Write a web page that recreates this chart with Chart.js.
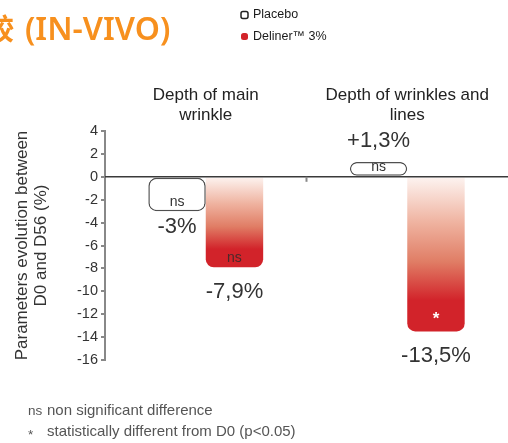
<!DOCTYPE html>
<html><head><meta charset="utf-8">
<script src="https://cdn.jsdelivr.net/npm/chart.js@4"></script>
<style>
html,body{margin:0;padding:0;background:#fff;overflow:hidden}
#wrap{position:relative;width:508px;height:443px}
canvas{position:absolute;left:0;top:0}
</style></head><body>
<div id="wrap"><canvas id="c" width="508" height="443"></canvas></div>
<script>
// ---- data ----
const categories = [["Depth of main", "wrinkle"], ["Depth of wrinkles and", "lines"]];
const seriesNames = ["Placebo", "Deliner\u2122 3%"];
const placeboValues = [-3, 1.3];
const delinerValues = [-7.9, -13.5];
const placeboLabels = ["-3%", "+1,3%"];
const delinerLabels = ["-7,9%", "-13,5%"];
const placeboSig = ["ns", "ns"];
const delinerSig = ["ns", "*"];
const yTickValues = [4, 2, 0, -2, -4, -6, -8, -10, -12, -14, -16];
const titleCJK = "\u6bd4\u8f83";
const titleLatin = "(IN-VIVO)";
const yAxisTitle = ["Parameters evolution between", "D0 and D56 (%)"];
const footSymbols = ["ns", "*"];
const footTexts = ["non significant difference", "statistically different from D0 (p<0.05)"];

// ---- styles ----
const SANS = "'Liberation Sans', Arial, sans-serif";
const RED = '#d2232a';
const TXT = '#333333';

function redGradient(ctx) {
  const chart = ctx.chart;
  const ys = chart.scales.y;
  if (!ys || ctx.type !== 'data') return RED;
  const v = ctx.raw;
  const y0 = ys.getPixelForValue(0);
  const y1 = ys.getPixelForValue(v);
  if (!isFinite(y0) || !isFinite(y1) || y0 === y1) return RED;
  const g = chart.ctx.createLinearGradient(0, y0, 0, y1);
  g.addColorStop(0, '#fdf4f1');
  g.addColorStop(0.3, '#efb29f');
  g.addColorStop(0.55, '#e07d65');
  g.addColorStop(0.8, RED);
  g.addColorStop(1, RED);
  return g;
}

const decorPlugin = {
  id: 'decor',
  afterDatasetsDraw(chart) {
    const {ctx, chartArea, scales} = chart;
    const y = scales.y, x = scales.x;
    const y0 = y.getPixelForValue(0);
    ctx.save();
    // zero line
    ctx.strokeStyle = '#3a3a3a';
    ctx.lineWidth = 1.5;
    ctx.beginPath();
    ctx.moveTo(chartArea.left, y0);
    ctx.lineTo(chart.width, y0);
    ctx.stroke();
    // category separator tick
    const sep = (x.getPixelForValue(0) + x.getPixelForValue(1)) / 2;
    ctx.strokeStyle = '#888';
    ctx.lineWidth = 2;
    ctx.beginPath();
    ctx.moveTo(sep, y0);
    ctx.lineTo(sep, y0 + 5);
    ctx.stroke();

    // value labels & significance
    const labelSets = [placeboLabels, delinerLabels];
    const sigSets = [placeboSig, delinerSig];
    chart.data.datasets.forEach((ds, di) => {
      const meta = chart.getDatasetMeta(di);
      meta.data.forEach((bar, i) => {
        const v = ds.data[i];
        const top = Math.min(bar.y, bar.base), bottom = Math.max(bar.y, bar.base);
        ctx.fillStyle = TXT;
        ctx.font = '22px ' + SANS;
        ctx.textAlign = 'center';
        ctx.textBaseline = 'middle';
        if (v >= 0) ctx.fillText(labelSets[di][i], bar.x, top - 21);
        else ctx.fillText(labelSets[di][i], bar.x, bottom + (di === 0 ? 16 : 25));
        const s = sigSets[di][i];
        if (s === '*') {
          ctx.fillStyle = '#ffffff';
          ctx.font = 'bold 17px ' + SANS;
          ctx.fillText(s, bar.x, bottom - 12);
        } else {
          ctx.fillStyle = di === 0 ? '#333' : '#4a2a2a';
          ctx.font = '14px ' + SANS;
          ctx.fillText(s, bar.x, bottom - 9);
        }
      });
    });
    ctx.restore();
  },
  afterDraw(chart) {
    const {ctx} = chart;
    ctx.save();
    // title (cropped at left)
    ctx.fillStyle = '#f7901e';
    ctx.textBaseline = 'alphabetic';
    ctx.textAlign = 'left';
    ctx.font = "600 32px 'Noto Sans', 'Open Sans', sans-serif";
    ctx.fillText(titleLatin, 25, 40);
    ctx.textAlign = 'right';
    ctx.font = "bold 29px 'Noto Sans CJK SC', sans-serif";
    ctx.fillText(titleCJK, 14, 40);
    // legend
    const lx = 241;
    const rows = [15, 36.5];
    ctx.textAlign = 'left';
    ctx.textBaseline = 'middle';
    ctx.font = '12.5px ' + SANS;
    rows.forEach((ry, k) => {
      if (k === 0) {
        ctx.fillStyle = '#fff';
        ctx.strokeStyle = '#222';
        ctx.lineWidth = 1.5;
        ctx.beginPath();
        ctx.roundRect(lx, ry - 3.5, 7, 7, 2);
        ctx.fill();
        ctx.stroke();
      } else {
        ctx.fillStyle = RED;
        ctx.beginPath();
        ctx.roundRect(lx, ry - 3.5, 7, 7, 2.5);
        ctx.fill();
      }
      ctx.fillStyle = '#1a1a1a';
      ctx.fillText(seriesNames[k], lx + 12, ry);
    });
    // footnotes
    ctx.fillStyle = '#555';
    const fy = [411, 432];
    fy.forEach((yy, k) => {
      ctx.font = '13.5px ' + SANS;
      ctx.fillText(footSymbols[k], 28, yy + (k === 1 ? 3 : 0));
      ctx.font = '15px ' + SANS;
      ctx.fillText(footTexts[k], 47, yy);
    });
    ctx.restore();
  }
};

new Chart(document.getElementById('c'), {
  type: 'bar',
  data: {
    labels: categories,
    datasets: [
      {
        label: seriesNames[0],
        data: placeboValues,
        backgroundColor: '#ffffff',
        borderColor: '#505050',
        borderWidth: 1.5,
        borderRadius: 8,
        borderSkipped: false,
        categoryPercentage: 0.57,
        barPercentage: 1
      },
      {
        label: seriesNames[1],
        data: delinerValues,
        backgroundColor: redGradient,
        borderWidth: 0,
        borderRadius: 8,
        categoryPercentage: 0.57,
        barPercentage: 1
      }
    ]
  },
  options: {
    responsive: false,
    animation: false,
    devicePixelRatio: 1,
    layout: {padding: {top: 78, bottom: 83, left: 0, right: 0}},
    plugins: {legend: {display: false}, tooltip: {enabled: false}},
    scales: {
      x: {
        position: 'top',
        grid: {display: false, drawTicks: false},
        border: {display: false},
        ticks: {color: '#222', font: {size: 17, family: SANS, lineHeight: 1.18}, padding: 6, maxRotation: 0, autoSkip: false},
        afterFit(s) { s.height = 53; }
      },
      y: {
        min: -16, max: 4,
        afterBuildTicks(s) { s.ticks = yTickValues.map(v => ({value: v})); },
        afterFit(s) { s.width = 105; },
        grid: {drawOnChartArea: false, tickLength: 4, color: '#888', lineWidth: 2},
        border: {display: true, color: '#888', width: 2},
        ticks: {color: TXT, font: {size: 14.5, family: SANS}, padding: 3},
        title: {display: true, text: yAxisTitle, color: TXT, font: {size: 17, family: SANS, lineHeight: 1.12}, padding: {top: 13, bottom: 0}}
      }
    }
  },
  plugins: [decorPlugin]
});
</script>
</body></html>
